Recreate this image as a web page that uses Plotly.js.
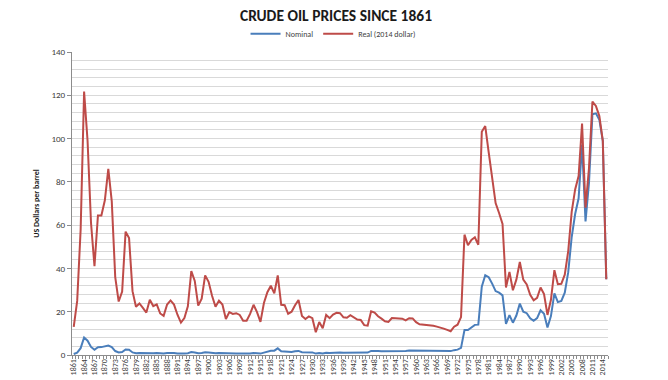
<!DOCTYPE html>
<html>
<head>
<meta charset="utf-8">
<script src="https://cdn.plot.ly/plotly-3.0.1.min.js"></script>
<style>html,body{margin:0;padding:0;background:#fff;}#chart{width:668px;height:380px;}</style>
</head>
<body>
<div id="chart"></div>
<script>
var startYear = 1861;
var endYear = 2015;

var nominal = [
  0.49, 1.05, 3.15, 8.06, 6.59, 3.74, 2.41, 3.63, 3.64, 3.86,
  4.34, 3.64, 1.83, 1.17, 1.35, 2.56, 2.42, 1.19, 0.86, 0.95,
  0.86, 0.78, 1.00, 0.84, 0.88, 0.71, 0.67, 0.88, 0.94, 0.87,
  0.67, 0.56, 0.64, 0.84, 1.36, 1.18, 0.79, 0.91, 1.29, 1.19,
  0.96, 0.80, 0.94, 0.86, 0.62, 0.73, 0.72, 0.72, 0.70, 0.61,
  0.61, 0.74, 0.95, 0.81, 0.64, 1.10, 1.56, 1.98, 2.01, 3.07,
  1.73, 1.61, 1.34, 1.43, 1.68, 1.88, 1.30, 1.17, 1.27, 1.19,
  0.65, 0.87, 0.67, 1.00, 0.97, 1.09, 1.18, 1.13, 1.02, 1.02,
  1.14, 1.19, 1.20, 1.21, 1.05, 1.12, 1.90, 1.99, 1.80, 1.71,
  1.71, 1.71, 1.93, 1.93, 1.93, 1.93, 1.90, 2.08, 2.08, 1.90,
  1.80, 1.80, 1.80, 1.80, 1.80, 1.80, 1.80, 1.80, 1.80, 1.80,
  2.24, 2.48, 3.29, 11.58, 11.53, 12.80, 13.92, 14.02, 31.61, 36.83,
  35.93, 32.97, 29.55, 28.78, 27.56, 14.43, 18.44, 14.92, 18.23, 23.73,
  20.00, 19.32, 16.97, 15.82, 17.02, 20.67, 19.09, 12.72, 17.97, 28.50,
  24.44, 25.02, 28.83, 38.27, 54.52, 65.14, 72.39, 97.26, 61.67, 79.50,
  111.26, 111.67, 108.66, 98.95, 35.0
];

var real2014 = [
  13.0, 25.0, 58.0, 121.7, 99.0, 61.0, 41.0, 64.5, 64.5, 71.5,
  86.0, 71.0, 36.0, 24.7, 29.3, 57.0, 54.0, 29.5, 22.3, 23.8,
  21.8, 19.6, 25.5, 22.6, 23.4, 19.2, 18.1, 23.3, 25.2, 23.3,
  18.6, 15.0, 17.1, 22.5, 38.8, 34.2, 22.8, 26.0, 36.8, 33.8,
  27.4, 22.3, 25.1, 23.3, 16.6, 19.8, 19.0, 19.3, 18.5, 15.8,
  15.8, 19.0, 23.2, 19.8, 15.3, 24.0, 29.0, 32.0, 28.5, 36.8,
  23.2, 23.0, 19.0, 20.0, 23.0, 25.4, 18.0, 16.6, 17.8, 17.0,
  10.5, 15.2, 12.4, 18.5, 17.0, 18.7, 19.5, 19.3, 17.4, 17.2,
  18.4, 17.3, 16.4, 16.2, 13.8, 13.6, 20.2, 19.6, 17.9, 16.8,
  15.6, 15.3, 17.1, 17.0, 17.0, 16.8, 16.0, 17.0, 16.9, 15.2,
  14.2, 14.1, 13.9, 13.7, 13.5, 13.1, 12.8, 12.2, 11.6, 11.0,
  13.1, 14.0, 17.5, 55.6, 50.7, 53.2, 54.4, 50.9, 103.1, 105.8,
  93.6, 80.9, 70.2, 65.6, 60.6, 31.2, 38.4, 29.9, 34.8, 43.0,
  34.8, 32.6, 27.8, 25.3, 26.4, 31.2, 28.2, 18.5, 25.5, 39.2,
  32.7, 32.9, 37.1, 48.0, 66.1, 76.5, 82.7, 106.9, 68.1, 86.3,
  117.1, 115.1, 110.4, 98.95, 35.0
];

var years = [];
for (var y = startYear; y <= endYear; y++) years.push(y);

var tickYears = [];
for (var t = 1861; t <= 2014; t += 3) tickYears.push(t);
var tickLabels = tickYears.map(String);

var font = "Carlito, Lato, 'Liberation Sans', sans-serif";

var traces = [
  {x: years, y: nominal, type: 'scatter', mode: 'lines', name: 'Nominal',
   line: {color: '#4a7ebb', width: 2}},
  {x: years, y: real2014, type: 'scatter', mode: 'lines', name: 'Real (2014 dollar)',
   line: {color: '#be4b48', width: 2}}
];

var layout = {
  width: 668, height: 380,
  margin: {l: 72, r: 60, t: 52, b: 25},
  paper_bgcolor: '#ffffff', plot_bgcolor: '#ffffff',
  font: {family: font, color: '#404040', size: 9},
  title: {text: '<b>CRUDE OIL PRICES SINCE 1861</b>', font: {family: font, size: 15.5, color: '#1a1a1a'},
          x: 0.503, xanchor: 'center', y: 0.958, yanchor: 'middle'},
  showlegend: true,
  legend: {orientation: 'h', x: 0.487, xanchor: 'center', y: 1.06, yanchor: 'middle',
           font: {family: font, size: 8, color: '#404040'}, itemwidth: 30, tracegroupgap: 0,
           bgcolor: 'rgba(0,0,0,0)'},
  xaxis: {
    type: 'linear', range: [1860.5, 2015.5], tickmode: 'array', tickvals: tickYears, ticktext: tickLabels,
    tickangle: -90, tickfont: {family: font, size: 8, color: '#404040'},
    ticks: '', showgrid: false, zeroline: false, showline: true, linecolor: '#8c8c8c', linewidth: 1,
    automargin: false, fixedrange: true,
    minor: {tickmode: 'linear', tick0: 1860.5, dtick: 1, ticks: 'outside', ticklen: 3, tickcolor: '#8c8c8c', showgrid: false}
  },
  yaxis: {
    range: [0, 140], tickmode: 'linear', tick0: 0, dtick: 20,
    tickfont: {family: font, size: 9, color: '#404040'},
    ticks: 'outside', ticklen: 4, tickcolor: '#8c8c8c',
    showgrid: true, gridcolor: '#d9d9d9', gridwidth: 1,
    minor: {tickmode: 'linear', tick0: 0, dtick: 4, showgrid: true, gridcolor: '#d9d9d9', gridwidth: 1, ticks: ''},
    zeroline: false, showline: true, linecolor: '#8c8c8c', linewidth: 1,
    title: {text: '<b>US Dollars per barrel</b>', font: {family: font, size: 8, color: '#1a1a1a'}, standoff: 10},
    automargin: false, fixedrange: true
  }
};

Plotly.newPlot('chart', traces, layout, {staticPlot: true, displayModeBar: false});
</script>
</body>
</html>
